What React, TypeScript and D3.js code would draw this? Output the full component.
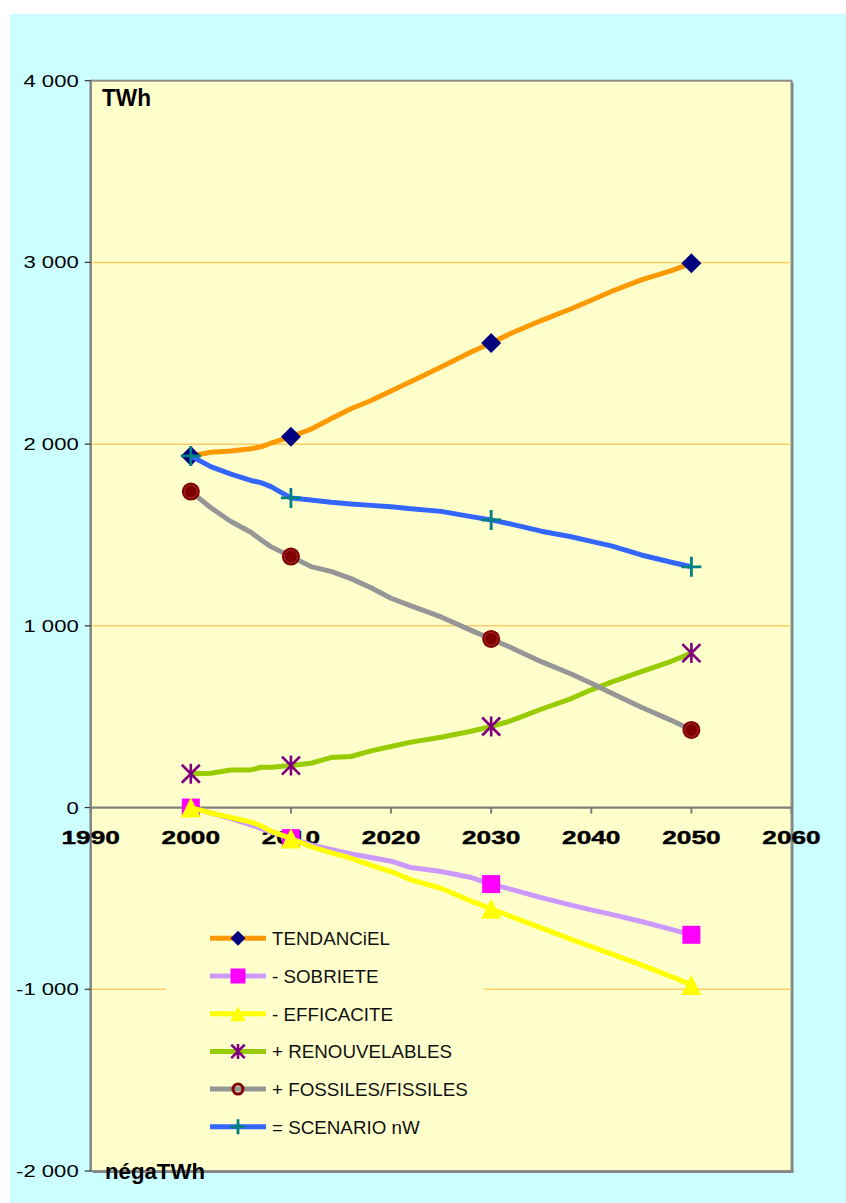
import React from "react";
import * as d3 from "d3";

const years = [2000, 2002, 2004, 2006, 2007, 2008, 2010, 2012, 2014, 2016, 2018, 2020, 2022, 2025, 2028, 2030, 2032, 2035, 2038, 2040, 2042, 2045, 2048, 2050];
const markerYears = [2000, 2010, 2030, 2050];

const tendanciel = [1935, 1955, 1962, 1975, 1985, 2005, 2041, 2082, 2140, 2195, 2240, 2293, 2345, 2425, 2507, 2557, 2610, 2680, 2745, 2792, 2840, 2904, 2955, 2995];
const sobriete = [0, -30, -60, -95, -115, -135, -168, -205, -230, -255, -275, -295, -330, -352, -385, -421, -450, -496, -537, -563, -588, -627, -670, -700];
const efficacite = [0, -30, -55, -80, -100, -130, -170, -215, -248, -279, -318, -352, -398, -444, -515, -557, -600, -662, -725, -765, -805, -866, -930, -976];
const renouvelables = [186, 189, 207, 207, 222, 222, 231, 244, 275, 281, 312, 336, 360, 387, 420, 446, 478, 541, 600, 648, 690, 748, 805, 850];
const fossiles = [1739, 1650, 1574, 1515, 1474, 1436, 1381, 1326, 1300, 1260, 1210, 1152, 1110, 1049, 975, 928, 880, 803, 735, 684, 630, 552, 480, 427];
const scenario = [1935, 1876, 1835, 1800, 1788, 1766, 1704, 1693, 1680, 1670, 1663, 1655, 1645, 1630, 1601, 1583, 1560, 1521, 1490, 1465, 1440, 1390, 1350, 1325];

const seriesNames = ["TENDANCiEL", "- SOBRIETE", "- EFFICACITE", "+ RENOUVELABLES", "+ FOSSILES/FISSILES", "= SCENARIO nW"];
const seriesValues = [tendanciel, sobriete, efficacite, renouvelables, fossiles, scenario];
const lineColors = ["#FF9900", "#CC99FF", "#FFFF00", "#99CC00", "#969696", "#3366FF"];
const markerColors = ["#000080", "#FF00FF", "#FFFF00", "#800080", "#800000", "#008080"];
const markerKinds = ["diamond", "square", "triangle", "star", "circle", "plus"];

const xTicks = [1990, 2000, 2010, 2020, 2030, 2040, 2050, 2060];
const yTicks = [4000, 3000, 2000, 1000, 0, -1000, -2000];
const yTickLabels = ["4 000", "3 000", "2 000", "1 000", "0", "-1 000", "-2 000"];
const gridValues = [3000, 2000, 1000, -1000];

const W = 846, H = 1203;
const L = 90.7, R = 791.5, T = 80.7, B = 1171;

function Marker({ kind, color, x, y, s, legend }: any) {
  const r = s / 2;
  if (kind === "diamond")
    return <path d={`M${x},${y - r}L${x + r},${y}L${x},${y + r}L${x - r},${y}Z`} fill={color} />;
  if (kind === "square")
    return <rect x={x - r} y={y - r} width={s} height={s} fill={color} />;
  if (kind === "triangle")
    return <path d={`M${x},${y - r}L${x + r},${y + r}L${x - r},${y + r}Z`} fill={color} />;
  if (kind === "star") {
    const a = r * 0.9;
    return (
      <path
        d={`M${x},${y - r}V${y + r}M${x - a},${y - a}L${x + a},${y + a}M${x - a},${y + a}L${x + a},${y - a}`}
        stroke={color}
        strokeWidth={2.6}
        fill="none"
      />
    );
  }
  if (kind === "circle") {
    if (legend)
      return <circle cx={x} cy={y} r={r - 1.5} fill="none" stroke={color} strokeWidth={3} />;
    return (
      <g>
        <circle cx={x} cy={y} r={r} fill={color} />
        <circle cx={x} cy={y} r={r - 2.5} fill="none" stroke="#B04848" strokeWidth={0.7} />
      </g>
    );
  }
  return (
    <path d={`M${x - r},${y}H${x + r}M${x},${y - r}V${y + r}`} stroke={color} strokeWidth={2.8} fill="none" />
  );
}

export default function App() {
  const x = d3.scaleLinear().domain([1990, 2060]).range([L, R]);
  const y = d3.scaleLinear().domain([-2000, 4000]).range([B, T]);
  const line = d3
    .line<[number, number]>()
    .x((d) => x(d[0]))
    .y((d) => y(d[1]));

  const legendTop = 938.3;
  const legendStep = 37.7;

  return (
    <svg width={W} height={H} style={{ position: "absolute", left: 0, top: 0 }} fontFamily="Liberation Sans, Arial, sans-serif">
      <rect x={0} y={0} width={W} height={H} fill="#FFFFFF" />
      <rect x={10} y={14} width={W - 10} height={H - 14} fill="#CCFFFF" />
      {/* plot area */}
      <rect x={L + 2} y={T + 2} width={R - L} height={B - T} fill="#808080" />
      <rect x={L} y={T} width={R - L} height={B - T} fill="#FFFFCC" stroke="#8C8C8C" strokeWidth={2} />
      {gridValues.map((v) => (
        <line key={v} x1={L + 1} x2={R - 1} y1={y(v)} y2={y(v)} stroke="#FFCC66" strokeWidth={1.5} />
      ))}
      {/* legend background */}
      <rect x={166} y={912} width={318} height={236} fill="#FFFFCC" />
      {/* y axis */}
      <line x1={L} x2={L} y1={T} y2={B} stroke="#808080" strokeWidth={2} />
      {yTicks.map((v, i) => (
        <g key={v}>
          <line x1={L - 6} x2={L} y1={y(v)} y2={y(v)} stroke="#333" strokeWidth={1.2} />
          <text
            transform={`translate(${L - 12},${y(v) + 6}) scale(1.3,1)`}
            textAnchor="end"
            fontSize={17}
            fill="#000"
          >
            {yTickLabels[i]}
          </text>
        </g>
      ))}
      {/* x axis at zero */}
      <line x1={L} x2={R} y1={y(0)} y2={y(0)} stroke="#808080" strokeWidth={2.2} />
      {xTicks.map((t) => (
        <g key={t}>
          <line x1={x(t)} x2={x(t)} y1={y(0)} y2={y(0) + 6} stroke="#808080" strokeWidth={2} />
          <text
            transform={`translate(${x(t)},${y(0) + 36}) scale(1.42,1)`}
            textAnchor="middle"
            fontSize={18.5}
            fontWeight="bold"
            fill="#000"
            stroke="#000"
            strokeWidth={0.4}
          >
            {t}
          </text>
        </g>
      ))}
      {/* series */}
      {seriesValues.map((vals, si) => {
        const pts = years.map((yr, i) => [yr, vals[i]] as [number, number]);
        return (
          <g key={si}>
            <path d={line(pts) || ""} fill="none" stroke={lineColors[si]} strokeWidth={5} strokeLinejoin="round" />
            {markerYears.map((my) => {
              const idx = years.indexOf(my);
              return (
                <Marker
                  key={my}
                  kind={markerKinds[si]}
                  color={markerColors[si]}
                  x={x(my)}
                  y={y(vals[idx])}
                  s={si === 4 ? 18 : si === 1 ? 18 : 20}
                />
              );
            })}
          </g>
        );
      })}
      {/* labels */}
      <text x={102} y={106} fontSize={23} fontWeight="bold" textLength={49} lengthAdjust="spacingAndGlyphs">
        TWh
      </text>
      <text x={105} y={1179} fontSize={22} fontWeight="bold" textLength={100} lengthAdjust="spacingAndGlyphs">
        négaTWh
      </text>
      {/* legend */}
      {seriesNames.map((name, i) => {
        const ly = legendTop + i * legendStep;
        return (
          <g key={name}>
            <line x1={210} x2={266} y1={ly} y2={ly} stroke={lineColors[i]} strokeWidth={5} />
            <Marker kind={markerKinds[i]} color={markerColors[i]} x={238} y={ly} s={i === 4 ? 13 : 15} legend />
            <text x={272} y={ly + 6.8} fontSize={18.8} fill="#111">
              {name}
            </text>
          </g>
        );
      })}
    </svg>
  );
}
